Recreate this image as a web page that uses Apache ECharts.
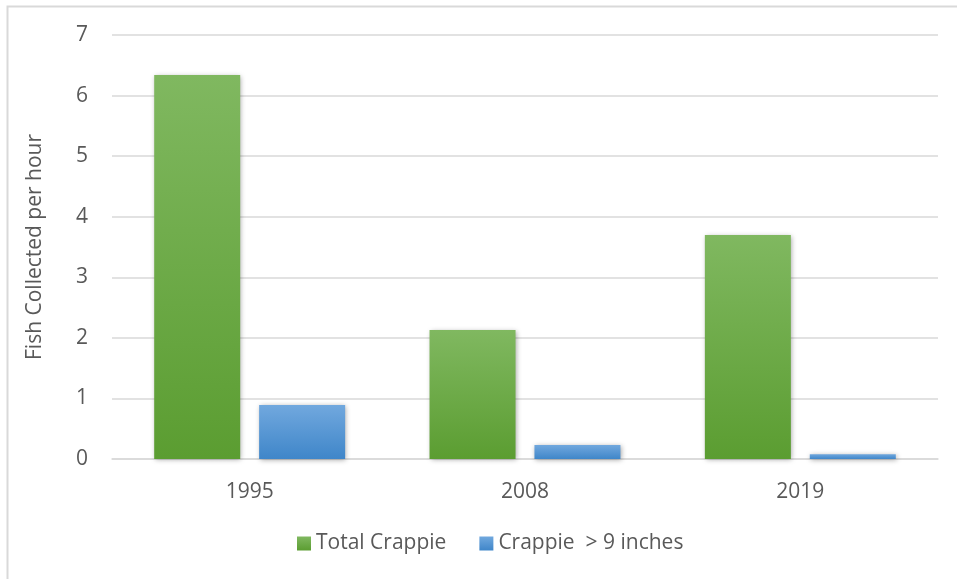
<!DOCTYPE html>
<html>
<head>
<meta charset="utf-8">
<script src="https://cdn.jsdelivr.net/npm/echarts@6/dist/echarts.min.js"></script>
<style>html,body{margin:0;padding:0;background:#fff;}#c{width:957px;height:579px;}</style>
</head>
<body>
<div id="c"></div>
<script>
const categories = ['1995', '2008', '2019'];
const totalCrappie = [6.34, 2.13, 3.70];
const crappieOver9 = [0.89, 0.23, 0.08];
const seriesNames = ['Total Crappie', 'Crappie  > 9 inches'];
const yTitle = 'Fish Collected per hour';

const chart = echarts.init(document.getElementById('c'), null, {renderer: 'canvas'});
const font = '"Open Sans", "DejaVu Sans", sans-serif';
const txt = '#595959';
function grad(top, bottom) {
  return new echarts.graphic.LinearGradient(0, 0, 0, 1, [{offset: 0, color: top}, {offset: 1, color: bottom}]);
}
const shadow = {shadowBlur: 5, shadowColor: 'rgba(0,0,0,0.35)', shadowOffsetX: 1, shadowOffsetY: 1};
chart.setOption({
  animation: false,
  backgroundColor: '#fff',
  graphic: [{type: 'rect', shape: {x: 7.5, y: 6.5, width: 1000, height: 1000}, style: {fill: 'none', stroke: '#d9d9d9', lineWidth: 2}, silent: true}],
  grid: {left: 112, right: 19, top: 35, bottom: 120},
  legend: {
    top: 528, left: 292,
    itemWidth: 14, itemHeight: 14, itemGap: 33,
    icon: 'rect',
    textStyle: {fontFamily: font, fontSize: 21, color: txt},
    data: seriesNames
  },
  xAxis: {
    type: 'category', data: categories,
    axisLine: {show: true, lineStyle: {color: '#d9d9d9', width: 1.5}},
    axisTick: {show: false},
    axisLabel: {fontFamily: font, fontSize: 21, color: txt, margin: 23}
  },
  yAxis: {
    type: 'value', min: 0, max: 7, interval: 1,
    name: yTitle, nameLocation: 'middle', nameGap: 66, nameRotate: 90,
    nameTextStyle: {fontFamily: font, fontSize: 21, color: txt},
    axisLine: {show: false}, axisTick: {show: false},
    axisLabel: {fontFamily: font, fontSize: 21, color: txt, margin: 24},
    splitLine: {lineStyle: {color: '#d9d9d9', width: 1.5}}
  },
  series: [
    {name: seriesNames[0], type: 'bar', data: totalCrappie, barWidth: 86, barGap: '22%',
     itemStyle: Object.assign({color: grad('#80b860', '#5b9d31')}, shadow)},
    {name: seriesNames[1], type: 'bar', data: crappieOver9, barWidth: 86,
     itemStyle: Object.assign({color: grad('#71a8de', '#3f86c9')}, shadow)}
  ]
});
</script>
</body>
</html>
